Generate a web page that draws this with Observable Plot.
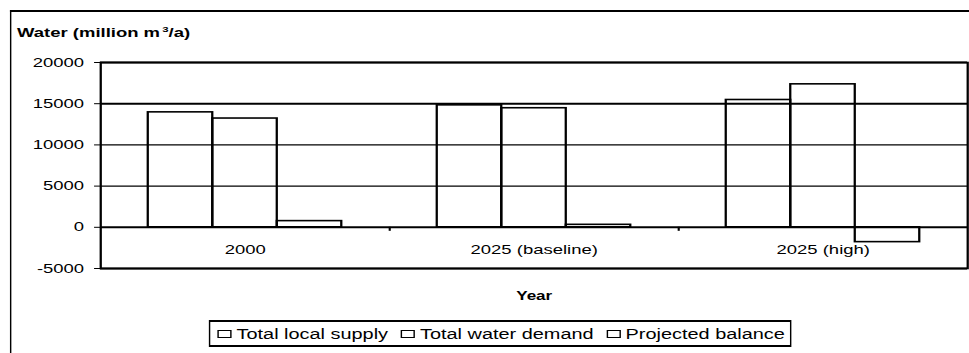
<!DOCTYPE html>
<html>
<head>
<meta charset="utf-8">
<script src="https://cdn.jsdelivr.net/npm/d3@7"></script>
<script src="https://cdn.jsdelivr.net/npm/@observablehq/plot@0.6"></script>
<style>
  html, body { margin: 0; padding: 0; background: #fff; overflow: hidden; width: 969px; height: 353px; }
  #stage {
    position: absolute; left: 0; top: 0; width: 682px; height: 353px;
    transform-origin: 0 0; transform: scaleX(1.4208);
    font-family: "Liberation Sans", Arial, sans-serif; color: #000;
  }
  #outer { position: absolute; left: 7px; top: 10px; width: 800px; height: 400px;
    border-left: 1.5px solid #000; border-top: 2px solid #000; }
  #title { position: absolute; left: 12px; top: 25px; font-size: 13px; font-weight: bold; line-height: 15px; white-space: nowrap; }
  #title sup { font-size: 8px; vertical-align: 5px; line-height: 0; margin-left: 1.5px; }
  #chart { position: absolute; left: 0; top: 40px; }
  #xlabel { position: absolute; left: 326px; width: 100px; text-align: center; top: 289px; font-size: 12px; font-weight: bold; line-height: 14px; }
  #legend { position: absolute; left: 147px; top: 320px; width: 410px; height: 27px;
    border: 1.5px solid #000; border-top-width: 2px; border-bottom-width: 2px;
    display: flex; align-items: center; font-size: 14px; white-space: nowrap; padding-left: 5px; box-sizing: border-box; }
  .item { display: flex; align-items: center; margin-right: 9px; }
  .sw { width: 10px; height: 8px; border: 1.5px solid #000; box-sizing: border-box; background: #fff; margin-right: 3.5px; }
</style>
</head>
<body>
<div id="stage">
  <div id="outer"></div>
  <div id="title">Water (million m<sup>3</sup>/a)</div>
  <div id="chart"></div>
  <div id="xlabel">Year</div>
  <div id="legend"></div>
</div>
<script>
// ---- data ----
const categories = ["2000", "2025 (baseline)", "2025 (high)"];
const series = ["Total local supply", "Total water demand", "Projected balance"];
const supply = [13950, 14800, 15450];
const demand = [13200, 14450, 17350];
const balance = [750, 300, -1800];
const yTicks = [-5000, 0, 5000, 10000, 15000, 20000];
const gridValues = [5000, 10000, 15000];

// ---- layout constants (styles) ----
const PAD_OUTER = 0.74;                         // outer padding of each group, in bar widths
const BW = 1 / (series.length + 2 * PAD_OUTER); // bar width as fraction of a category slot

const valuesBySeries = [supply, demand, balance];
const rows = [];
categories.forEach((c, i) => {
  series.forEach((s, j) => {
    rows.push({category: c, i, series: s, j, value: valuesBySeries[j][i]});
  });
});

const chart = Plot.plot({
  width: 682,
  height: 240,
  marginLeft: 70.4,
  marginRight: 1.4,
  marginTop: 22,
  marginBottom: 12,
  style: {fontFamily: '"Liberation Sans", Arial, sans-serif', color: "#000", background: "transparent", overflow: "visible"},
  x: {domain: [0, categories.length], axis: null},
  y: {domain: [-5000, 20000]},
  marks: [
    Plot.ruleY(gridValues, {stroke: "#000", strokeWidth: d => d === 15000 ? 2 : 1.3}),
    Plot.rect(rows, {
      x1: d => d.i + (PAD_OUTER + d.j) * BW,
      x2: d => d.i + (PAD_OUTER + d.j + 1) * BW,
      y1: () => 0,
      y2: "value",
      fill: "none",
      stroke: "#000",
      strokeWidth: 1.6
    }),
    Plot.ruleY([0], {stroke: "#000", strokeWidth: 2}),
    Plot.ruleY([yTicks[0], yTicks[yTicks.length - 1]], {stroke: "#000", strokeWidth: 2}),
    Plot.frame({stroke: "#000", strokeWidth: 1.6}),
    Plot.ruleX(d3.range(1, categories.length), {y1: () => 0, y2: () => 0, insetBottom: -4, stroke: "#000", strokeWidth: 1.5}),
    Plot.text(categories, {x: (d, i) => i + 0.5, y: () => 0, dy: 23, text: d => d, fontSize: 13, fill: "#000"}),
    Plot.axisY({ticks: yTicks, tickSize: 4.2, tickPadding: 7.5, tickFormat: d => String(d), fontSize: 13, label: null, stroke: "#000"})
  ]
});
document.getElementById("chart").appendChild(chart);

const legend = document.getElementById("legend");
series.forEach(s => {
  const it = document.createElement("div");
  it.className = "item";
  const sw = document.createElement("div");
  sw.className = "sw";
  const tx = document.createElement("span");
  tx.textContent = s;
  it.appendChild(sw);
  it.appendChild(tx);
  legend.appendChild(it);
});
</script>
</body>
</html>
